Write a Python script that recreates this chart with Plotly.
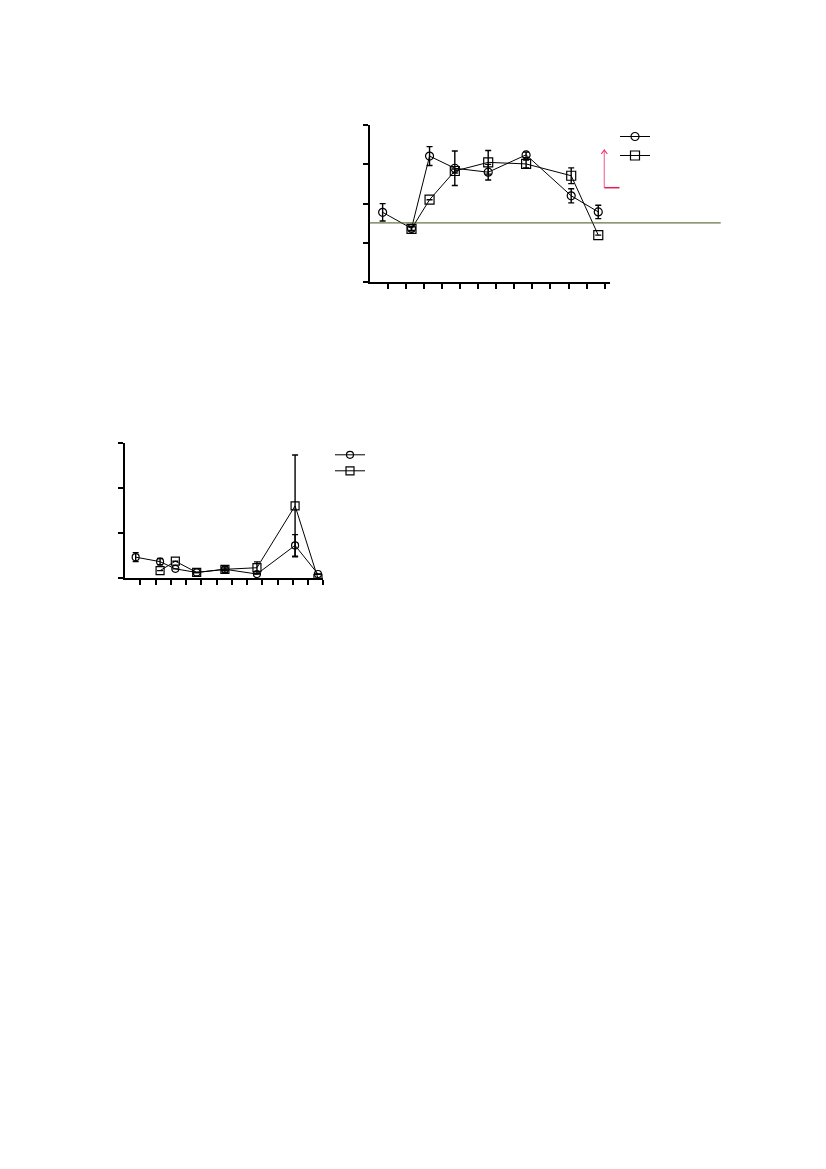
import plotly.graph_objects as go

# ---- data ----
x_time = [0.7, 2.3, 3.3, 4.7, 6.55, 8.65, 11.15, 12.65]
x_ticks = list(range(1, 14))

top_circle = [1.78, 1.37, 3.21, 2.90, 2.80, 3.24, 2.20, 1.79]
top_circle_err = [0.22, 0.05, 0.24, 0.44, 0.20, 0.07, 0.18, 0.17]
top_square = [None, 1.36, 2.10, 2.83, 3.05, 3.01, 2.71, 1.20]
top_square_err = [None, 0.05, 0.0, 0.05, 0.30, 0.10, 0.20, 0.0]
top_baseline = 1.51
top_yticks = [0, 1, 2, 3, 4]

bottom_circle = [0.47, 0.37, 0.21, 0.13, 0.20, 0.095, 0.73, 0.095]
bottom_circle_err = [0.10, 0.07, 0.0, 0.0, 0.03, 0.0, 0.24, 0.0]
bottom_square = [None, 0.17, 0.38, 0.13, 0.20, 0.235, 1.61, 0.0]
bottom_square_err = [None, 0.0, 0.0, 0.0, 0.07, 0.13, 1.13, 0.0]
bottom_yticks = [0, 1, 2, 3]

W, H = 826, 1169
OFF = 8  # page body margin


def px_x(p):
    return (p - OFF) / W


def px_y(p):
    return 1 - (p - OFF) / H


fig = go.Figure()


def add_series(x, y, err, symbol, size, xa, ya, legend):
    fig.add_trace(go.Scatter(
        x=x, y=y, mode="lines+markers", name=" ",
        xaxis=xa, yaxis=ya, legend=legend, showlegend=True,
        line=dict(color="black", width=1),
        marker=dict(symbol=symbol, size=size, color="black",
                    line=dict(color="black", width=1.2)),
        error_y=dict(type="data", array=err, visible=True,
                     color="black", thickness=1.4, width=3),
        connectgaps=True,
    ))


add_series(x_time, top_circle, top_circle_err, "circle-open", 8, "x", "y", "legend")
add_series(x_time, top_square, top_square_err, "square-open", 9, "x", "y", "legend")
add_series(x_time, bottom_circle, bottom_circle_err, "circle-open", 7, "x2", "y2", "legend2")
add_series(x_time, bottom_square, bottom_square_err, "square-open", 8, "x2", "y2", "legend3")

axis_common = dict(showgrid=False, zeroline=False, showline=True, linecolor="black",
                   linewidth=2, ticks="outside", ticklen=5, tickwidth=1.5,
                   tickcolor="black", showticklabels=False)

legend_common = dict(xanchor="left", yanchor="top", bgcolor="rgba(0,0,0,0)",
                     tracegroupgap=0)

fig.update_layout(
    width=W, height=H,
    margin=dict(l=0, r=0, t=0, b=0),
    paper_bgcolor="white", plot_bgcolor="white",
    xaxis=dict(domain=[px_x(370), px_x(610)], range=[0, 13.3], tickvals=x_ticks,
               anchor="y", **axis_common),
    yaxis=dict(domain=[px_y(282.3), px_y(125)], range=[0, 4], tickvals=top_yticks,
               anchor="x", **axis_common),
    xaxis2=dict(domain=[px_x(125), px_x(323.3)], range=[0, 13.0], tickvals=x_ticks,
                anchor="y2", **axis_common),
    yaxis2=dict(domain=[px_y(578.3), px_y(443.3)], range=[0, 3], tickvals=bottom_yticks,
                anchor="x2", **axis_common),
    legend=dict(x=px_x(615), y=px_y(122), font=dict(size=11, color="black"),
                **legend_common),
    legend2=dict(x=px_x(330), y=px_y(440.3), font=dict(size=8, color="black"),
                 **legend_common),
    legend3=dict(x=px_x(330), y=px_y(456.3), font=dict(size=8, color="black"),
                 **legend_common),
    showlegend=True,
)

# horizontal reference line
fig.add_shape(type="line", xref="paper", yref="y",
              x0=px_x(370), x1=px_x(720.7), y0=top_baseline, y1=top_baseline,
              line=dict(color="#3f5418", width=1))

# red arrow annotation
ax_x = px_x(604.3)
fig.add_shape(type="line", xref="paper", yref="paper",
              x0=ax_x, x1=ax_x, y0=px_y(187.7), y1=px_y(150.5),
              line=dict(color="#f27fa3", width=1.3))
fig.add_shape(type="path", xref="paper", yref="paper",
              path=f"M {px_x(601.3)},{px_y(154)} L {ax_x},{px_y(150)} L {px_x(607.3)},{px_y(154)}",
              line=dict(color="#e8336a", width=1.2))
fig.add_shape(type="line", xref="paper", yref="paper",
              x0=ax_x, x1=px_x(619.5), y0=px_y(187.7), y1=px_y(187.7),
              line=dict(color="#de1f55", width=1.5))

fig.write_html("out.html")
